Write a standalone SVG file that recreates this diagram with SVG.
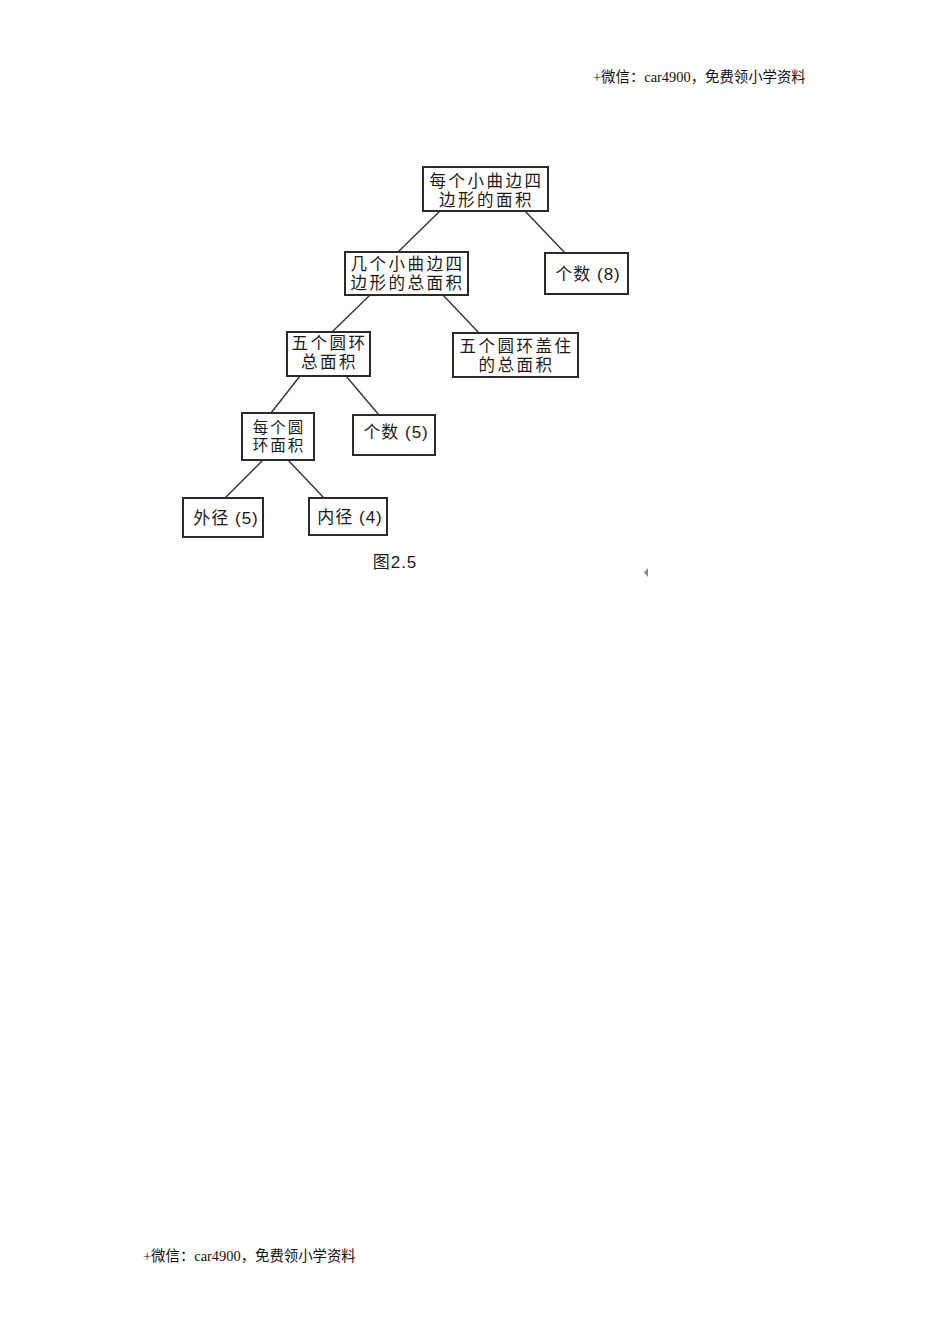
<svg xmlns="http://www.w3.org/2000/svg" width="950" height="1344" viewBox="0 0 950 1344">
<style>
.box{fill:#fff;stroke:#2a2a2a;stroke-width:2}
.t{font-family:"Liberation Sans","Noto Sans CJK SC",sans-serif;font-size:16.5px;letter-spacing:2.5px;fill:#1a1a1a;text-anchor:middle}
.s{font-family:"Liberation Sans","Noto Sans CJK SC",sans-serif;font-size:17px;letter-spacing:1px;fill:#1a1a1a;text-anchor:middle}
.hdr{font-family:"Liberation Serif","Noto Sans CJK SC",serif;font-size:14.4px;fill:#111}
.ln{stroke:#333;stroke-width:1.4;fill:none}
</style>
<rect width="950" height="1344" fill="#fff"/>
<text class="hdr" x="593" y="82">+微信：car4900，免费领小学资料</text>
<text class="hdr" x="143" y="1261">+微信：car4900，免费领小学资料</text>
<g id="connectors">
<line class="ln" x1="440" y1="211" x2="398" y2="252"/>
<line class="ln" x1="525" y1="211" x2="565" y2="253"/>
<line class="ln" x1="370" y1="295" x2="332" y2="332"/>
<line class="ln" x1="443" y1="295" x2="479" y2="333"/>
<line class="ln" x1="300" y1="376" x2="271" y2="413"/>
<line class="ln" x1="346" y1="376" x2="379" y2="415"/>
<line class="ln" x1="263" y1="460" x2="225" y2="498"/>
<line class="ln" x1="288" y1="460" x2="324" y2="498"/>
</g>
<g id="n1"><rect class="box" x="423" y="167" width="125" height="44"/>
<text class="t" x="486.5" y="187">每个小曲边四</text><text class="t" x="486.5" y="206">边形的面积</text></g>
<g id="n2"><rect class="box" x="545" y="253" width="83" height="41"/>
<text class="s" x="588" y="280">个数 (8)</text></g>
<g id="n3"><rect class="box" x="345" y="252" width="123" height="43"/>
<text class="t" x="407.5" y="270">几个小曲边四</text><text class="t" x="407.5" y="289">边形的总面积</text></g>
<g id="n4"><rect class="box" x="453" y="333" width="125" height="44"/>
<text class="t" x="516.5" y="352">五个圆环盖住</text><text class="t" x="516.5" y="371">的总面积</text></g>
<g id="n5"><rect class="box" x="287" y="332" width="83" height="44"/>
<text class="t" x="329.5" y="349">五个圆环</text><text class="t" x="329.5" y="368">总面积</text></g>
<g id="n6"><rect class="box" x="242" y="413" width="72" height="47"/>
<text class="t" x="279" y="433" style="font-size:15.5px;letter-spacing:2px">每个圆</text><text class="t" x="279" y="451" style="font-size:15.5px;letter-spacing:2px">环面积</text></g>
<g id="n7"><rect class="box" x="353" y="415" width="82" height="40"/>
<text class="s" x="396" y="438">个数 (5)</text></g>
<g id="n8"><rect class="box" x="183" y="498" width="80" height="39"/>
<text class="s" x="226" y="524">外径 (5)</text></g>
<g id="n9"><rect class="box" x="309" y="498" width="78" height="37"/>
<text class="s" x="350" y="523">内径 (4)</text></g>
<text class="s" x="395" y="568">图2.5</text>
<polygon points="648,568 648,577 644,572.5" fill="#888"/>
</svg>
